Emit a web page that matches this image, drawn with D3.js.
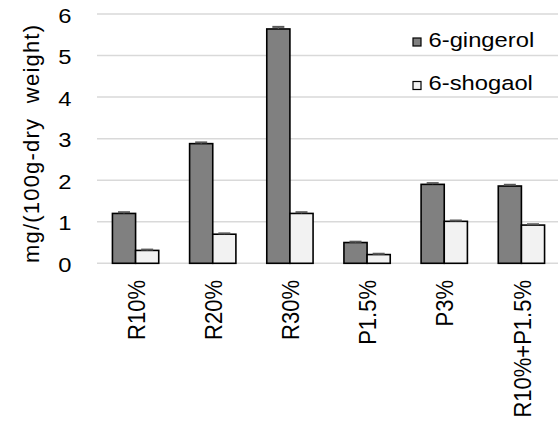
<!DOCTYPE html>
<html>
<head>
<meta charset="utf-8">
<script src="https://cdn.jsdelivr.net/npm/d3@7"></script>
<style>
  html, body { margin: 0; padding: 0; background: #fff; }
  svg { display: block; font-family: "Liberation Sans", Arial, sans-serif; }
</style>
</head>
<body>
<svg id="chart" width="558" height="423"></svg>
<script>
const categories = ["R10%", "R20%", "R30%", "P1.5%", "P3%", "R10%+P1.5%"];
const seriesNames = ["6-gingerol", "6-shogaol"];
const gingerol = [1.20, 2.88, 5.64, 0.50, 1.90, 1.86];
const shogaol  = [0.31, 0.70, 1.20, 0.21, 1.01, 0.92];
const gingerolErr = [0.03, 0.03, 0.05, 0.02, 0.03, 0.03];
const shogaolErr  = [0.02, 0.02, 0.03, 0.02, 0.02, 0.02];
const yTicks = [0, 1, 2, 3, 4, 5, 6];
const yLabel = "mg/(100g-dry\u00a0 weight)";

const values = [gingerol, shogaol];
const errors = [gingerolErr, shogaolErr];
const fills = ["#808080", "#f2f2f2"];
const SX = 1.16; // slight horizontal text stretch seen in the reference

const svg = d3.select("#chart");

const x0 = d3.scaleBand().domain(categories).range([97, 560]).paddingInner(0).paddingOuter(0);
const x1 = d3.scaleBand().domain(seriesNames).range([x0.bandwidth() * 0.2, x0.bandwidth() * 0.8]).padding(0);
const y = d3.scaleLinear().domain([0, 6]).range([263.3, 14]);

// gridlines
svg.append("g").selectAll("line").data(yTicks).join("line")
  .attr("x1", 97).attr("x2", 558)
  .attr("y1", d => y(d)).attr("y2", d => y(d))
  .attr("stroke", "#d9d9d9").attr("stroke-width", 1.5);

// y tick labels
svg.append("g").selectAll("text").data(yTicks).join("text")
  .attr("transform", d => `translate(71.5,${y(d) + 1.5}) scale(${SX},1)`)
  .attr("text-anchor", "end").attr("dy", "0.35em")
  .attr("font-size", 20.5).attr("fill", "#000")
  .text(d => d);

// y axis title
svg.append("text")
  .attr("transform", `translate(31,144) rotate(-90)`)
  .attr("text-anchor", "middle").attr("dy", "0.35em")
  .attr("font-size", 22).attr("fill", "#000")
  .attr("textLength", 238).attr("lengthAdjust", "spacing")
  .text(yLabel);

// bars
const groups = svg.append("g").selectAll("g").data(categories).join("g")
  .attr("transform", d => `translate(${x0(d)},0)`);

seriesNames.forEach((s, si) => {
  groups.append("rect")
    .attr("x", x1(s))
    .attr("width", x1.bandwidth())
    .attr("y", (d, i) => y(values[si][i]))
    .attr("height", (d, i) => y(0) - y(values[si][i]))
    .attr("fill", fills[si])
    .attr("stroke", "#000").attr("stroke-width", 1.6);
});

// error bars (plus direction)
seriesNames.forEach((s, si) => {
  const cx = x1(s) + x1.bandwidth() / 2;
  groups.append("line")
    .attr("x1", cx).attr("x2", cx)
    .attr("y1", (d, i) => y(values[si][i]))
    .attr("y2", (d, i) => y(values[si][i] + errors[si][i]))
    .attr("stroke", "#595959").attr("stroke-width", 1.2);
  groups.append("line")
    .attr("x1", cx - 6).attr("x2", cx + 6)
    .attr("y1", (d, i) => y(values[si][i] + errors[si][i]))
    .attr("y2", (d, i) => y(values[si][i] + errors[si][i]))
    .attr("stroke", "#595959").attr("stroke-width", 2);
});

// x labels
svg.append("g").selectAll("text").data(categories).join("text")
  .attr("transform", d => `translate(${x0(d) + x0.bandwidth() / 2 + 1},280) scale(1.05,1) rotate(-90)`)
  .attr("text-anchor", "end").attr("dy", "0.35em")
  .attr("font-size", 22).attr("fill", "#000")
  .text(d => d);

// legend
const legendBase = [46.5, 90];
const legend = svg.append("g").selectAll("g").data(seriesNames).join("g");
legend.append("rect")
  .attr("x", 413).attr("y", (d, i) => legendBase[i] - 8.5)
  .attr("width", 8).attr("height", 8)
  .attr("fill", (d, i) => fills[i]).attr("stroke", "#000").attr("stroke-width", 1.2);
legend.append("text")
  .attr("transform", (d, i) => `translate(428.5,${legendBase[i]}) scale(${SX},1)`)
  .attr("font-size", 20.5).attr("fill", "#000")
  .text(d => d);
</script>
</body>
</html>
